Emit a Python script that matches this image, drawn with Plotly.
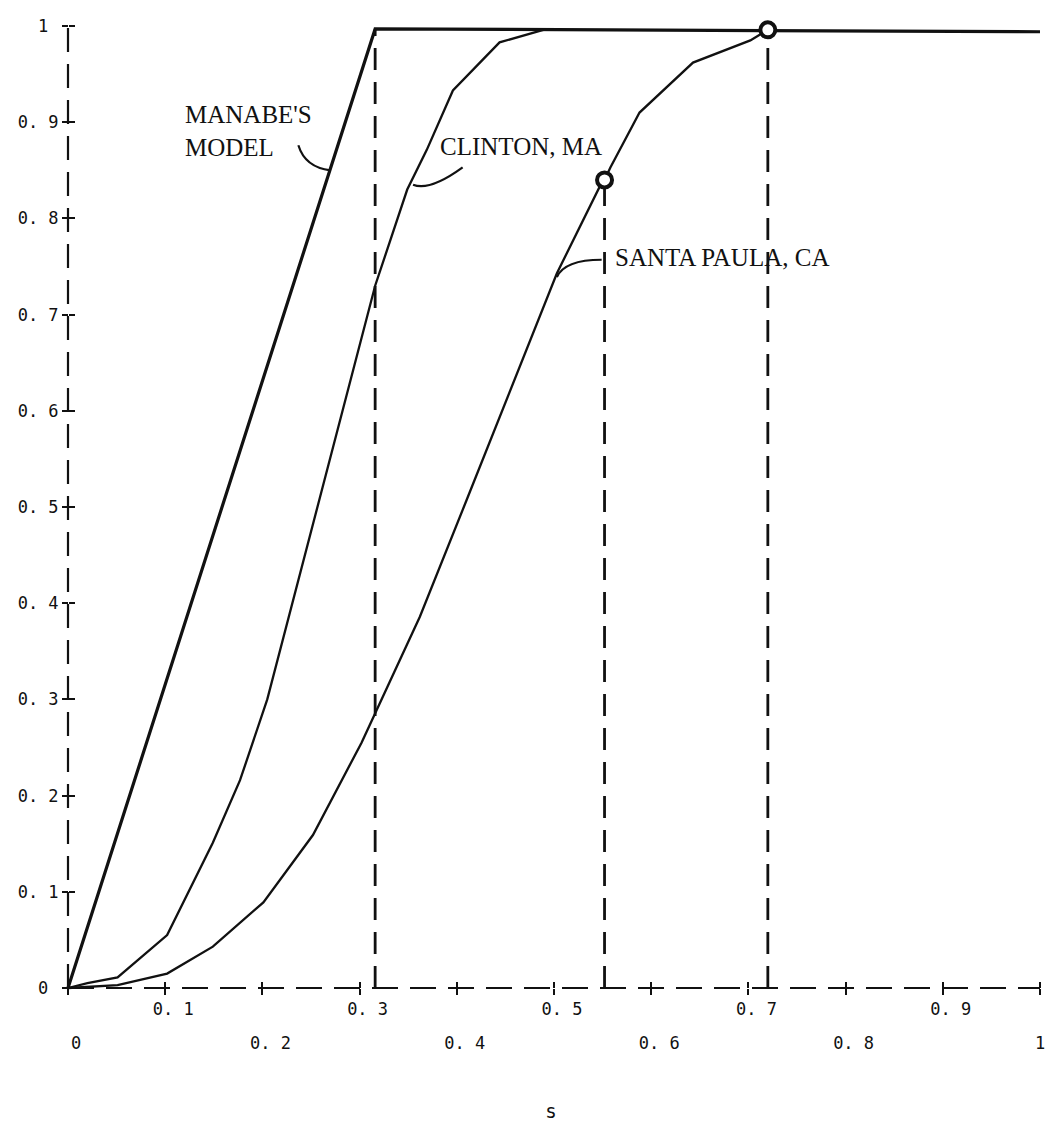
import plotly.graph_objects as go

# ---------------- data ----------------
manabe_x = [0.0, 0.316, 1.0]
manabe_y = [0.0, 0.997, 0.994]

clinton_x = [0.0, 0.02, 0.051, 0.102, 0.149, 0.177, 0.205, 0.246, 0.316, 0.349, 0.369, 0.396, 0.444, 0.489]
clinton_y = [0.0, 0.005, 0.011, 0.055, 0.151, 0.216, 0.300, 0.458, 0.730, 0.830, 0.871, 0.933, 0.983, 0.996]

santa_x = [0.0, 0.051, 0.102, 0.149, 0.201, 0.252, 0.302, 0.316, 0.362, 0.410, 0.503, 0.547, 0.552, 0.558, 0.588, 0.643, 0.702, 0.720]
santa_y = [0.0, 0.003, 0.015, 0.043, 0.089, 0.159, 0.255, 0.286, 0.386, 0.507, 0.743, 0.833, 0.840, 0.853, 0.910, 0.962, 0.985, 0.996]

# marked points (circles) with dashed drop lines
mark_x = [0.552, 0.720]
mark_y = [0.840, 0.996]
manabe_break_x = 0.316
manabe_break_y = 0.997

tick_vals = [0.0, 0.1, 0.2, 0.3, 0.4, 0.5, 0.6, 0.7, 0.8, 0.9, 1.0]
y_tick_text = ["0\u00a0", "0. 1", "0. 2", "0. 3", "0. 4", "0. 5", "0. 6", "0. 7", "0. 8", "0. 9", "1\u00a0"]
x_odd_text = ["", "0. 1", "", "0. 3", "", "0. 5", "", "0. 7", "", "0. 9", ""]
x_even_text = ["0", "", "0. 2", "", "0. 4", "", "0. 6", "", "0. 8", "", ""]
x_end_val = [1.0]
x_end_text = ["1"]

labels = [
    {"text": "MANABE'S<br>MODEL", "x": 0.118, "y": 0.891},
    {"text": "CLINTON, MA", "x": 0.381, "y": 0.875},
    {"text": "SANTA PAULA, CA", "x": 0.561, "y": 0.759},
]
leaders = [
    ((0.237, 0.876), (0.244, 0.853), (0.270, 0.850)),
    ((0.406, 0.853), (0.372, 0.828), (0.355, 0.835)),
    ((0.549, 0.757), (0.511, 0.757), (0.503, 0.739)),
]

# ---------------- geometry ----------------
W, H = 1046, 1123
ml, mr, mt, mb = 58, 2, 14, 125
px_per_x = 972.0
px_per_y = 962.0
x0_px = 68 - ml
plot_w = W - ml - mr
plot_h = H - mt - mb
xmin = -x0_px / px_per_x
xmax = xmin + plot_w / px_per_x
ymax = 1 + (26 - mt) / px_per_y
ymin = ymax - plot_h / px_per_y
xpos = (0 - ymin) / (ymax - ymin)
ypos = (0 - xmin) / (xmax - xmin)

INK = "#111"
fig = go.Figure()

# dashed axis lines
fig.add_trace(go.Scatter(x=[0, 1], y=[0, 0], mode="lines",
                         line=dict(color=INK, width=2.2, dash="26px,12px"),
                         showlegend=False, hoverinfo="skip"))
fig.add_trace(go.Scatter(x=[0, 0], y=[0, 1], mode="lines",
                         line=dict(color=INK, width=2.2, dash="24px,12px"),
                         showlegend=False, hoverinfo="skip"))
# dashed drop lines
for xv, yv in [(manabe_break_x, manabe_break_y)] + list(zip(mark_x, mark_y)):
    fig.add_trace(go.Scatter(x=[xv, xv], y=[0, yv], mode="lines",
                             line=dict(color=INK, width=2.8, dash="22px,12px"),
                             showlegend=False, hoverinfo="skip"))

fig.add_trace(go.Scatter(x=manabe_x, y=manabe_y, mode="lines", name="Manabe's model",
                         line=dict(color=INK, width=3.2), showlegend=False))
fig.add_trace(go.Scatter(x=clinton_x, y=clinton_y, mode="lines", name="Clinton, MA",
                         line=dict(color=INK, width=2.3), showlegend=False))
fig.add_trace(go.Scatter(x=santa_x, y=santa_y, mode="lines", name="Santa Paula, CA",
                         line=dict(color=INK, width=2.3), showlegend=False))
fig.add_trace(go.Scatter(x=mark_x, y=mark_y, mode="markers",
                         marker=dict(symbol="circle", size=15, color="white",
                                     line=dict(color=INK, width=4)),
                         showlegend=False, cliponaxis=False))
# dummy traces for overlay axes
fig.add_trace(go.Scatter(x=[None], y=[None], xaxis="x2", yaxis="y2",
                         showlegend=False, hoverinfo="skip"))
fig.add_trace(go.Scatter(x=[None], y=[None], xaxis="x3", yaxis="y2",
                         showlegend=False, hoverinfo="skip"))

tick_font = dict(family="DejaVu Sans Mono", size=17, color="#111")

fig.update_layout(
    width=W, height=H,
    margin=dict(l=ml, r=mr, t=mt, b=mb),
    paper_bgcolor="white", plot_bgcolor="white",
    xaxis=dict(range=[xmin, xmax], autorange=False, anchor="free", position=xpos,
               showgrid=False, zeroline=False, showline=False,
               tickmode="array", tickvals=tick_vals, ticktext=x_odd_text,
               ticks="outside", ticklen=6, tickwidth=1.6, tickcolor=INK,
               tickfont=tick_font, ticklabelshift=8, ticklabelstandoff=0,
               ticklabeloverflow="allow", automargin=False),
    xaxis2=dict(range=[xmin, xmax], autorange=False, overlaying="x", anchor="free",
                position=xpos, side="bottom",
                showgrid=False, zeroline=False, showline=False,
                tickmode="array", tickvals=tick_vals, ticktext=x_even_text,
                ticks="inside", ticklen=6, tickwidth=1.6, tickcolor=INK,
                tickfont=tick_font, ticklabelshift=8, ticklabelstandoff=43,
                ticklabeloverflow="allow",
                title=dict(text="s", font=dict(family="DejaVu Sans Mono", size=19, color="#111"),
                           standoff=52),
                automargin=False),
    xaxis3=dict(range=[xmin, xmax], autorange=False, overlaying="x", anchor="free",
                position=xpos, side="bottom",
                showgrid=False, zeroline=False, showline=False,
                tickmode="array", tickvals=x_end_val, ticktext=x_end_text,
                ticks="inside", ticklen=6, tickwidth=1.6, tickcolor=INK,
                tickfont=tick_font, ticklabelshift=0, ticklabelstandoff=43,
                ticklabeloverflow="allow", automargin=False),
    yaxis=dict(range=[ymin, ymax], autorange=False, anchor="free", position=ypos,
               showgrid=False, zeroline=False, showline=False,
               tickmode="array", tickvals=tick_vals, ticktext=y_tick_text,
               ticks="outside", ticklen=6, tickwidth=1.6, tickcolor=INK,
               tickfont=tick_font, ticklabeloverflow="allow", automargin=False),
    yaxis2=dict(range=[ymin, ymax], autorange=False, overlaying="y", anchor="free",
                position=ypos, side="left",
                showgrid=False, zeroline=False, showline=False,
                tickmode="array", tickvals=tick_vals, showticklabels=False,
                ticks="inside", ticklen=6, tickwidth=1.6, tickcolor=INK,
                automargin=False),
)

for lab in labels:
    fig.add_annotation(x=lab["x"], y=lab["y"], xref="x", yref="y", text=lab["text"],
                       showarrow=False, xanchor="left", yanchor="middle", align="left",
                       font=dict(family="Liberation Serif", size=25, color=INK))

for (p0, c, p1) in leaders:
    fig.add_shape(type="path", xref="x", yref="y",
                  path=f"M {p0[0]},{p0[1]} Q {c[0]},{c[1]} {p1[0]},{p1[1]}",
                  line=dict(color=INK, width=2.2))

fig.write_html("out.html")
